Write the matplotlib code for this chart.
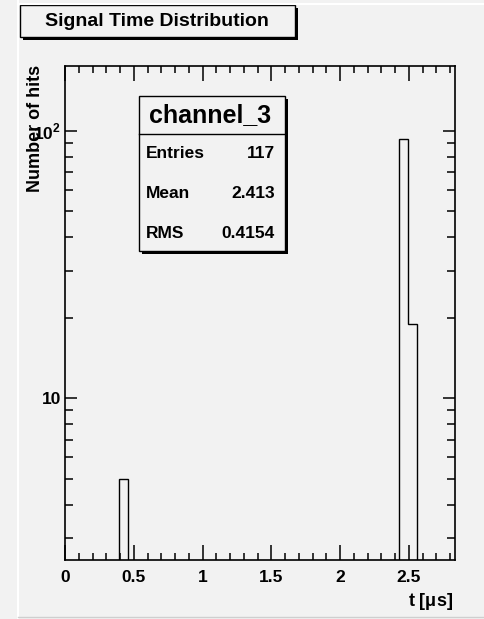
import matplotlib
matplotlib.use('Agg')
import matplotlib.pyplot as plt
from matplotlib.patches import Rectangle
from matplotlib.lines import Line2D
from matplotlib.ticker import FixedLocator, MultipleLocator, FixedFormatter

plt.rcParams['font.family'] = ['Liberation Sans', 'DejaVu Sans']
plt.rcParams['font.weight'] = 'bold'
plt.rcParams['mathtext.fontset'] = 'custom'
plt.rcParams['mathtext.rm'] = 'Liberation Sans:bold'
plt.rcParams['mathtext.bf'] = 'Liberation Sans:bold'

# histogram contents (two groups of adjacent bins)
low_edges = [0.393, 0.456]
low_counts = [5]
high_edges = [2.432, 2.497, 2.560]
high_counts = [93, 19]

hist_name = 'channel_3'
stat_labels = ['Entries', 'Mean', 'RMS']
stat_values = ['117', '2.413', '0.4154']

title = 'Signal Time Distribution'
xlabel = r't [$\mathrm{\mu}$s]'
ylabel = 'Number of hits'

W, H = 484, 619
bg = '#f2f2f2'

fig = plt.figure(figsize=(W / 100, H / 100), dpi=100, facecolor=bg)

def fx(x):
    return x / W

def fy(y):
    return 1 - y / H

ax = fig.add_axes([fx(65), fy(560), fx(455) - fx(65), fy(66) - fy(560)])
ax.set_facecolor(bg)

ax.stairs(low_counts, low_edges, baseline=1, color='black', lw=1.0)
ax.stairs(high_counts, high_edges, baseline=1, color='black', lw=1.0)

ax.set_yscale('log')
ax.set_xlim(0, 2.836)
ax.set_ylim(2.48, 175)

ax.xaxis.set_minor_locator(MultipleLocator(0.1))
ax.set_xticks([0, 0.5, 1, 1.5, 2, 2.5])
ax.set_xticklabels(['0', '0.5', '1', '1.5', '2', '2.5'])

ax.yaxis.set_major_locator(FixedLocator([10, 100]))
ax.yaxis.set_major_formatter(FixedFormatter(['10', r'$10^{2}$']))
ax.yaxis.set_minor_locator(FixedLocator([3, 4, 5, 6, 7, 8, 9, 20, 30, 40, 50, 60, 70, 80, 90]))
ax.yaxis.set_minor_formatter(FixedFormatter([''] * 15))

ax.tick_params(axis='both', which='both', direction='in', top=True, right=True,
               width=1.1, colors='black', labelsize=12.5)
ax.tick_params(axis='x', which='major', length=10.5, pad=7)
ax.tick_params(axis='x', which='minor', length=5)
ax.tick_params(axis='y', which='major', length=8.5, pad=3)
ax.tick_params(axis='y', which='minor', length=5.5)
for lab in ax.get_xticklabels() + ax.get_yticklabels():
    lab.set_fontweight('bold')
for s in ax.spines.values():
    s.set_linewidth(1.2)

fig.text(fx(453), fy(601), xlabel, ha='right', va='center', fontsize=13, fontweight='bold')
fig.text(fx(35), fy(65), ylabel, ha='center', va='top', rotation=90, fontsize=13, fontweight='bold')

# canvas bevel lines
fig.add_artist(Line2D([fx(18), fx(18)], [0, 1], color='white', lw=1.5))
fig.add_artist(Line2D([fx(18), 1], [fy(4), fy(4)], color='white', lw=1.5))
fig.add_artist(Line2D([fx(18), 1], [fy(617), fy(617)], color='#cfcfcf', lw=1.0))

def box(x0, y0, x1, y1, shadow=3):
    fig.add_artist(Rectangle((fx(x0 + shadow), fy(y1 + shadow)), fx(x1 - x0), fy(y0) - fy(y1),
                             facecolor='black', edgecolor='black', lw=0))
    fig.add_artist(Rectangle((fx(x0), fy(y1)), fx(x1 - x0), fy(y0) - fy(y1),
                             facecolor=bg, edgecolor='black', lw=1.0))

# title box
box(20, 5, 295, 37)
fig.text(fx(157), fy(21), title, ha='center', va='center', fontsize=14, fontweight='bold')

# stat box
box(139, 96, 285, 251)
fig.add_artist(Line2D([fx(139), fx(285)], [fy(134), fy(134)], color='black', lw=1.0))
fig.text(fx(210), fy(115), hist_name, ha='center', va='center', fontsize=18, fontweight='bold')
for i, (lab, val) in enumerate(zip(stat_labels, stat_values)):
    yy = 153 + 40 * i
    fig.text(fx(146), fy(yy), lab, ha='left', va='center', fontsize=12.5, fontweight='bold')
    fig.text(fx(275), fy(yy), val, ha='right', va='center', fontsize=12.5, fontweight='bold')

fig.savefig('out.png', dpi=100, facecolor=bg)
